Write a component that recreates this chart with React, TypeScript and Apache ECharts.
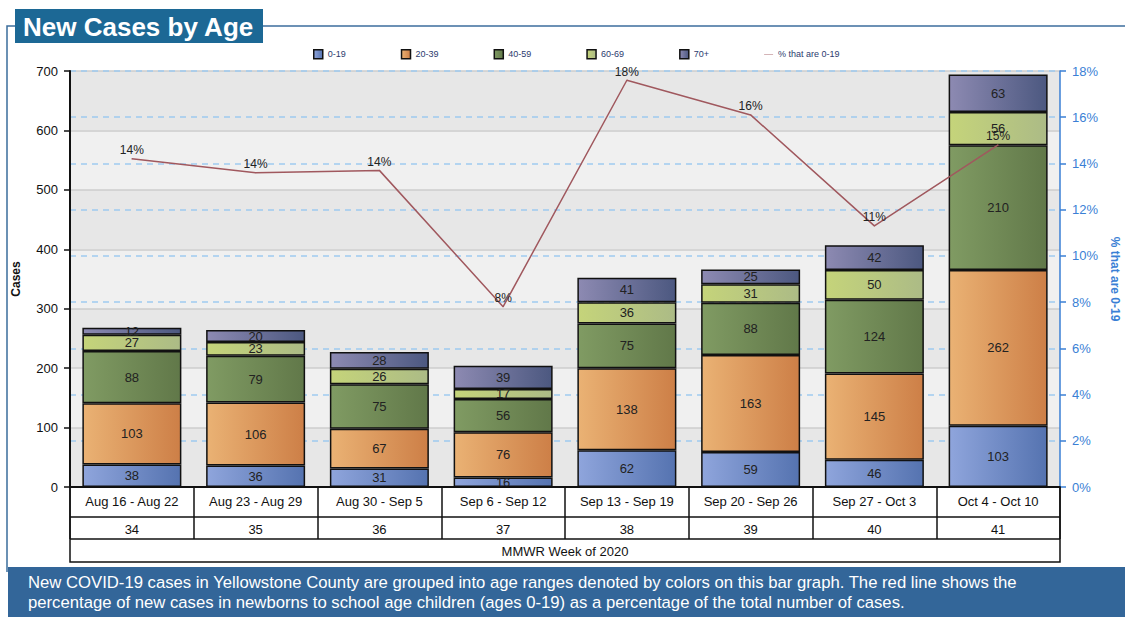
import React, { useEffect, useRef } from "react";
import * as echarts from "echarts";

const weeks = ["Aug 16 - Aug 22", "Aug 23 - Aug 29", "Aug 30 - Sep 5", "Sep 6 - Sep 12", "Sep 13 - Sep 19", "Sep 20 - Sep 26", "Sep 27 - Oct 3", "Oct 4 - Oct 10"];
const weekNumbers = ["34", "35", "36", "37", "38", "39", "40", "41"];
const age0to19 = [38, 36, 31, 16, 62, 59, 46, 103];
const age20to39 = [103, 106, 67, 76, 138, 163, 145, 262];
const age40to59 = [88, 79, 75, 56, 75, 88, 124, 210];
const age60to69 = [27, 23, 26, 17, 36, 31, 50, 56];
const age70plus = [12, 20, 28, 39, 41, 25, 42, 63];
const pctUnder20 = [14.2, 13.6, 13.7, 7.8, 17.6, 16.1, 11.3, 14.8];

const grad = (a: string, b: string) => ({
  type: "linear", x: 0, y: 0, x2: 1, y2: 0,
  colorStops: [{ offset: 0, color: a }, { offset: 1, color: b }],
});

const barSeries = [
  { name: "0-19", data: age0to19, color: grad("#8fa5dc", "#5573b0") },
  { name: "20-39", data: age20to39, color: grad("#eab274", "#cd7f47") },
  { name: "40-59", data: age40to59, color: grad("#809b63", "#617849") },
  { name: "60-69", data: age60to69, color: grad("#c5d47a", "#acbb86") },
  { name: "70+", data: age70plus, color: grad("#8d8ab2", "#4c5880") },
];

export default function App() {
  const ref = useRef<HTMLDivElement>(null);
  useEffect(() => {
    const chart = echarts.init(ref.current!, null, { renderer: "svg" });
    const font = "Arial, 'Liberation Sans', sans-serif";
    chart.setOption({
      animation: false,
      backgroundColor: "#ffffff",
      textStyle: { fontFamily: font },
      legend: {
        top: 44,
        left: 308,
        itemWidth: 9,
        itemHeight: 9,
        itemGap: 55,
        textStyle: { fontSize: 9, color: "#2c3b6e", fontFamily: font },
        data: [
          ...barSeries.map((s) => ({ name: s.name, icon: "rect", itemStyle: { borderColor: "#111", borderWidth: 1.5 } })),
          { name: "% that are 0-19", icon: "path://M0,5 L20,5 L20,6 L0,6 Z", itemStyle: { color: "#a0585e" } },
        ],
      },
      grid: { left: 70, right: 65, top: 71, bottom: 130, outerBoundsMode: "none", containLabel: false },
      xAxis: [
        {
          type: "category",
          data: weeks,
          position: "bottom",
          axisLine: { lineStyle: { color: "#111", width: 2 } },
          axisTick: { show: true, length: 52, lineStyle: { color: "#111", width: 1.5 } },
          axisLabel: { fontSize: 13, color: "#111", margin: 8, interval: 0, fontFamily: font },
        },
        {
          type: "category",
          data: weekNumbers,
          position: "bottom",
          offset: 30,
          axisLine: { show: false },
          axisTick: { show: false },
          axisLabel: { fontSize: 13, color: "#111", margin: 6, interval: 0, fontFamily: font },
          name: "MMWR Week of 2020",
          nameLocation: "middle",
          nameGap: 28,
          nameTextStyle: { fontSize: 13, color: "#111", fontFamily: font },
        },
      ],
      yAxis: [
        {
          type: "value",
          min: 0,
          max: 700,
          interval: 100,
          name: "Cases",
          nameLocation: "middle",
          nameGap: 48,
          nameTextStyle: { fontSize: 12, fontWeight: "bold", color: "#111", fontFamily: font },
          axisLine: { show: true, lineStyle: { color: "#111", width: 2 } },
          axisTick: { show: true, length: 6, lineStyle: { color: "#111", width: 1.5 } },
          axisLabel: { fontSize: 13, color: "#111", margin: 12, fontFamily: font },
          splitLine: { show: true, lineStyle: { color: "#cdcdcd", width: 1.5 } },
          splitArea: { show: true, areaStyle: { color: ["#e7e7e7", "#f0f0f0"] } },
        },
        {
          type: "value",
          min: 0,
          max: 18,
          interval: 2,
          position: "right",
          name: "% that are 0-19",
          nameLocation: "middle",
          nameRotate: -90,
          nameGap: 48,
          nameTextStyle: { fontSize: 12, fontWeight: "bold", color: "#3a7fd5", fontFamily: font },
          axisLine: { show: true, lineStyle: { color: "#3a7fd5", width: 1.5 } },
          axisTick: { show: true, length: 6, lineStyle: { color: "#3a7fd5", width: 1.5 } },
          axisLabel: { fontSize: 13, color: "#3a7fd5", margin: 12, formatter: "{value}%", fontFamily: font },
          splitLine: { show: true, lineStyle: { color: "#9fcaf0", width: 1.5, type: [6, 5] } },
        },
      ],
      series: [
        ...barSeries.map((s) => ({
          name: s.name,
          type: "bar",
          stack: "cases",
          data: s.data,
          barCategoryGap: "20%",
          itemStyle: { color: s.color, borderColor: "#111", borderWidth: 1.5 },
          label: { show: true, position: "inside", fontSize: 13, color: "#222", fontFamily: font },
        })),
        {
          name: "% that are 0-19",
          type: "line",
          yAxisIndex: 1,
          data: pctUnder20,
          symbol: "circle",
          symbolSize: 1,
          showSymbol: true,
          z: 5,
          lineStyle: { color: "#a0585e", width: 1.5 },
          itemStyle: { color: "#a0585e" },
          label: {
            show: true,
            position: "top",
            distance: 2,
            fontSize: 12,
            color: "#222",
            fontFamily: font,
            formatter: (p: any) => Math.round(p.value) + "%",
          },
        },
      ],
      graphic: [
        { type: "rect", shape: { x: 70, y: 487, width: 990, height: 75 }, style: { fill: "none", stroke: "#111", lineWidth: 1.5 }, z: 10 },
        { type: "line", shape: { x1: 70, y1: 517, x2: 1060, y2: 517 }, style: { stroke: "#111", lineWidth: 1.5 }, z: 10 },
        { type: "line", shape: { x1: 70, y1: 539, x2: 1060, y2: 539 }, style: { stroke: "#111", lineWidth: 1.5 }, z: 10 },
        { type: "polyline", shape: { points: [[7, 572], [7, 26], [15, 26]] }, style: { stroke: "#3b6d9c", lineWidth: 1.5, fill: "none" } },
        { type: "line", shape: { x1: 263, y1: 26, x2: 1125, y2: 26 }, style: { stroke: "#3b6d9c", lineWidth: 1.5 } },
        { type: "rect", shape: { x: 15, y: 9, width: 248, height: 34 }, style: { fill: "#1c6895" } },
        { type: "text", x: 23, y: 27, style: { text: "New Cases by Age", fill: "#ffffff", font: "bold 26px Arial, 'Liberation Sans', sans-serif", verticalAlign: "middle" } },
        { type: "rect", shape: { x: 8, y: 567, width: 1117, height: 50 }, style: { fill: "#336699" } },
        { type: "text", x: 28, y: 582, style: { text: "New COVID-19 cases in Yellowstone County are grouped into age ranges denoted by colors on this bar graph. The red line shows the", fill: "#ffffff", font: "16.7px Arial, 'Liberation Sans', sans-serif", verticalAlign: "middle" } },
        { type: "text", x: 28, y: 602, style: { text: "percentage of new cases in newborns to school age children (ages 0-19) as a percentage of the total number of cases.", fill: "#ffffff", font: "16.7px Arial, 'Liberation Sans', sans-serif", verticalAlign: "middle" } },
      ],
    });
    return () => chart.dispose();
  }, []);
  return <div ref={ref} style={{ position: "fixed", left: 0, top: 0, width: 1125, height: 617, background: "#fff" }} />;
}
